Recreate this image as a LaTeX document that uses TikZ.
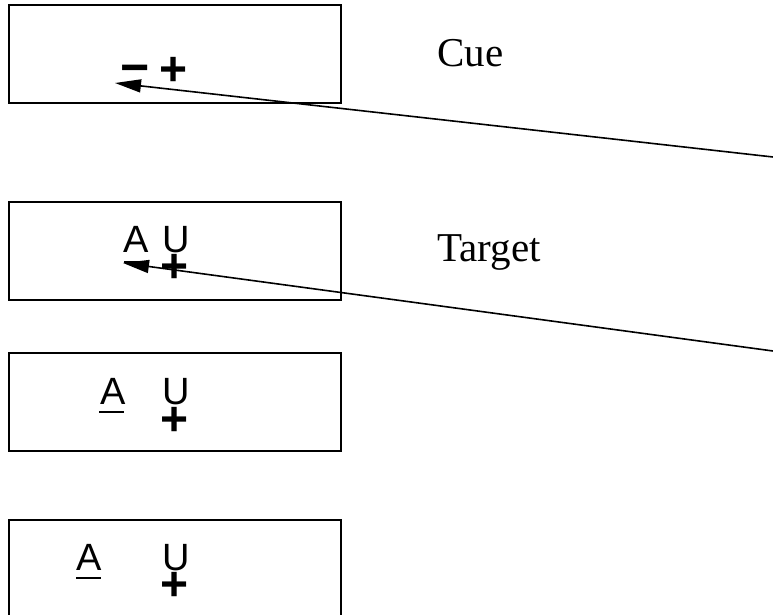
\documentclass[tikz,border=0pt]{standalone}
\usepackage{fontspec}
\setmainfont{Liberation Serif}
\newfontfamily\sansfam{Liberation Sans}
\usetikzlibrary{arrows.meta,positioning}

\begin{document}
\begin{tikzpicture}[x=0.5pt,y=-0.5pt,
    frame/.style={draw,line width=1pt,minimum width=166pt,minimum height=49pt,inner sep=0pt},
    lbl/.style={anchor=base west,inner sep=0pt,font=\fontsize{20.5}{24}\selectfont},
    ltr/.style={anchor=base,inner sep=0pt,font=\sansfam\fontsize{19}{22}\selectfont},
    mrk/.style={inner sep=0pt,font=\sansfam\bfseries\fontsize{24}{26}\selectfont},
    bar/.style={line width=1.25pt},
    ptr/.style={-{Triangle[length=13pt,width=6.5pt]},line width=0.8pt}]
    \useasboundingbox (0,0) rectangle (773,615);
    \clip (0,0) rectangle (773,615);
    % frames
    \node[frame] (cue) at (175,54) {};
    \node[frame] (target) at (175,251.5) {};
    \node[frame] (frm3) at (175,402.5) {};
    \node[frame] (frm4) at (175,569) {};
    \node[lbl] (cuelbl) at (437,67) {Cue};
    \node[lbl] (targetlbl) at (437,262) {Target};
    % cue marks
    \node[mrk,font=\sansfam\bfseries\fontsize{25}{26}\selectfont] (cueminus) at (135,75) {−};
    \node[mrk] (cueplus) at (174,71) {+};
    % target
    \node[ltr] (a2) at (136,253) {A};
    \node[ltr] (u2) at (176,253) {U};
    \node[mrk] (p2) at (175,268) {+};
    \draw[bar] (124,262) -- (148,262);
    % frame 3
    \node[ltr] (a3) at (113,405) {A};
    \node[ltr] (u3) at (176,405) {U};
    \node[mrk] (p3) at (175,421) {+};
    \draw[bar] (99,412) -- (124,412);
    % frame 4
    \node[ltr] (a4) at (89,571) {A};
    \node[ltr] (u4) at (176,571) {U};
    \node[mrk] (p4) at (175,586) {+};
    \draw[bar] (76,578) -- (101,578);
    % pointers
    \coordinate (src1) at (773,157);
    \coordinate (tip1) at (115,83);
    \coordinate (src2) at (773,351);
    \coordinate (tip2) at (123,263);
    \draw[ptr] (src1) -- (tip1);
    \draw[ptr] (src2) -- (tip2);
\end{tikzpicture}
\end{document}
